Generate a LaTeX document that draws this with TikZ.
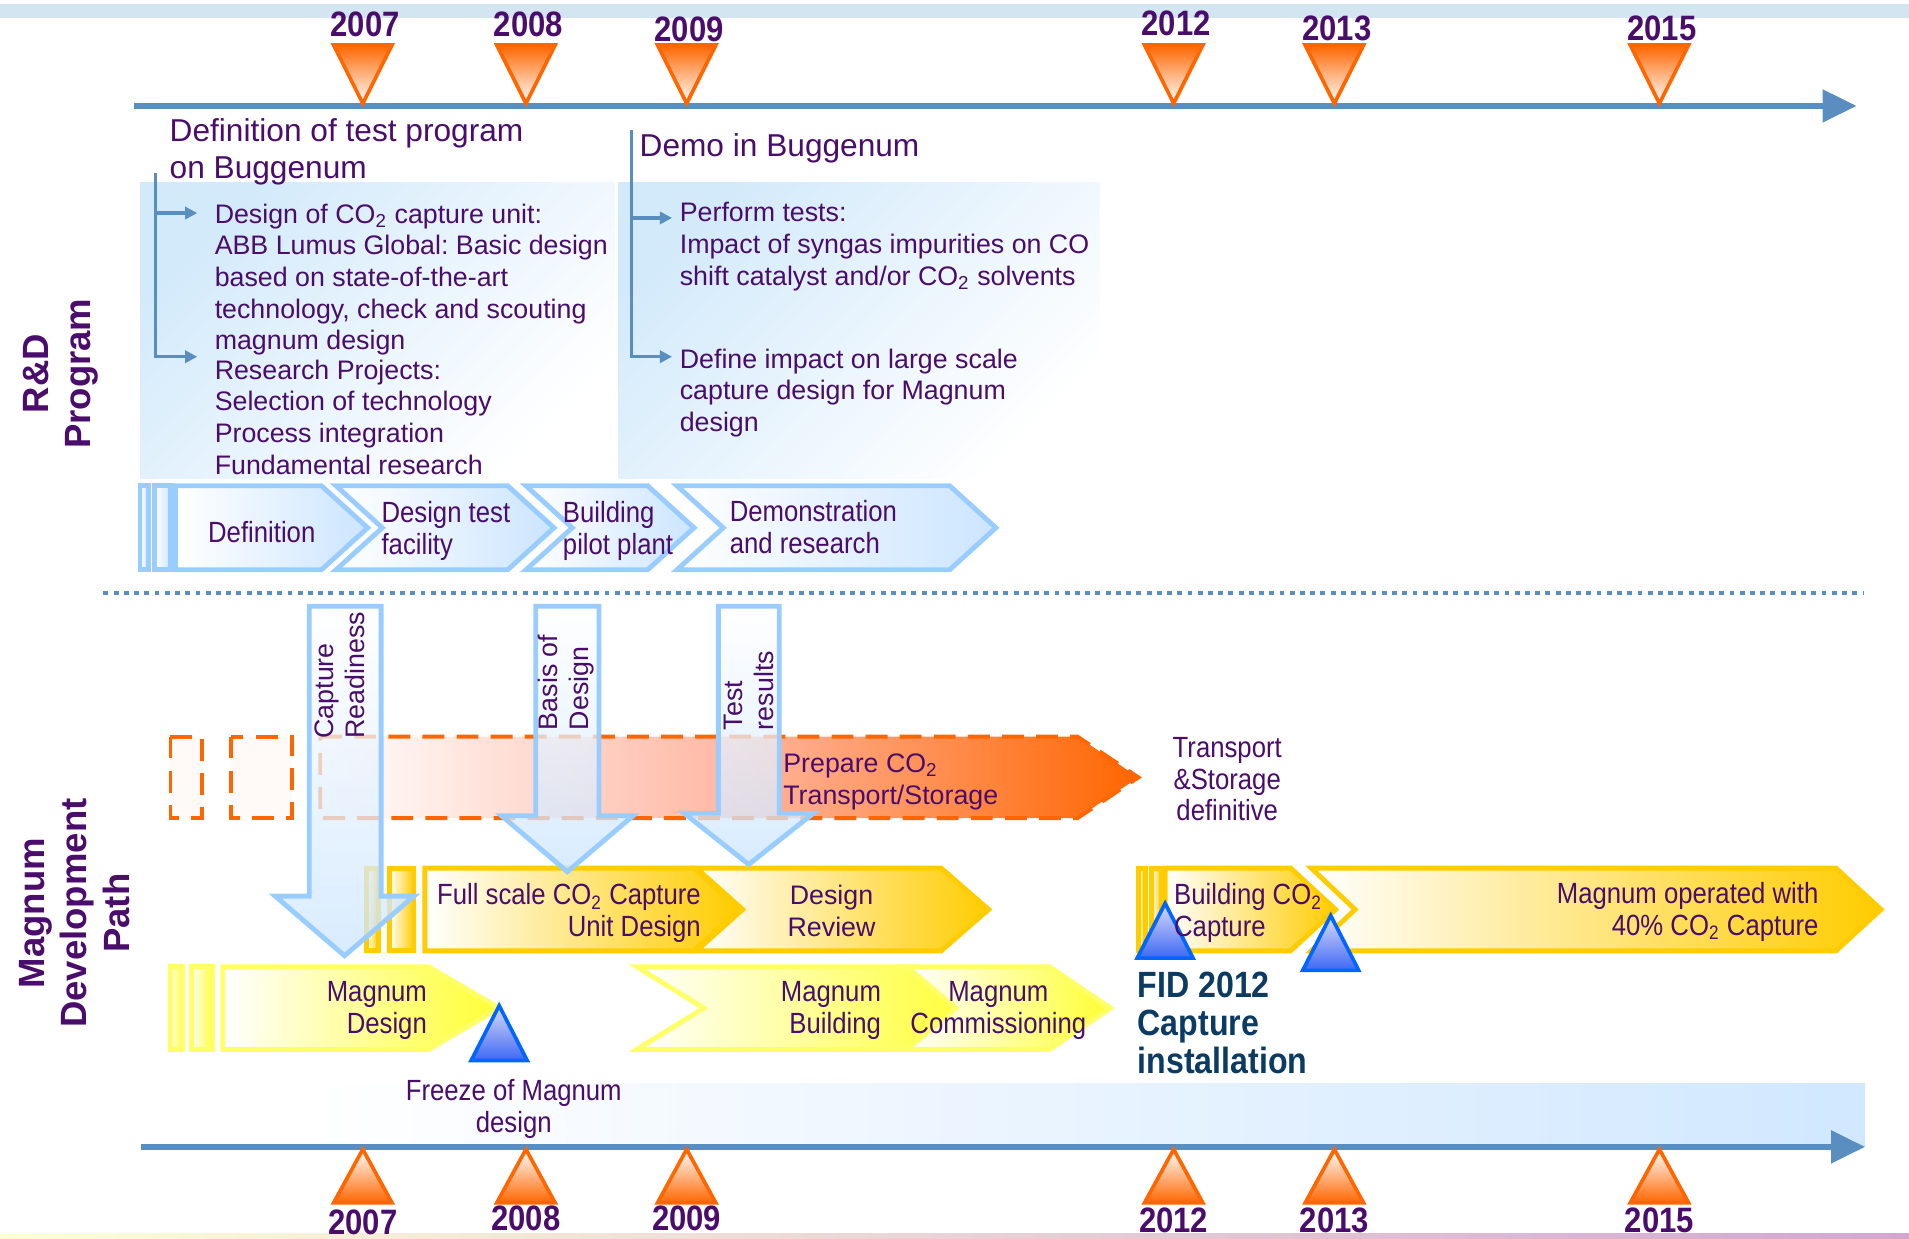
\documentclass[tikz,border=0pt]{standalone}
\usepackage{fontspec}
\setmainfont{Liberation Sans}
\newfontfamily\narrowfont[FakeStretch=0.88]{Liberation Sans}
\usetikzlibrary{arrows.meta}
\frenchspacing

\definecolor{ink}{HTML}{4A0D6B}
\definecolor{navy}{HTML}{0B3B63}
\definecolor{steel}{HTML}{5A8DC0}
\definecolor{band}{HTML}{D2E5F0}
\definecolor{skyline}{HTML}{99CCFF}
\definecolor{skyfill}{HTML}{CCE5FF}
\definecolor{panelblue}{HTML}{D3EAFB}
\definecolor{flame}{HTML}{FF6600}
\definecolor{salmon}{HTML}{FFB8A4}
\definecolor{gold}{HTML}{FFCC00}
\definecolor{lemon}{HTML}{FFFF33}
\definecolor{lemonline}{HTML}{FFFF66}
\definecolor{msblue}{HTML}{0066FF}
\definecolor{mslight}{HTML}{DCDCF8}
\definecolor{msdark}{HTML}{3D68F5}

\tikzset{
  txt/.style={text=ink, inner sep=0pt, font=\fontsize{11}{13}\selectfont},
  head/.style={text=ink, inner sep=0pt, font=\fontsize{13}{15}\selectfont},
  narrow/.style={text=ink, inner sep=0pt, font=\narrowfont\fontsize{12}{13}\selectfont},
  year/.style={text=ink, inner sep=0pt, font=\narrowfont\bfseries\fontsize{14.5}{15}\selectfont},
  side/.style={text=ink, inner sep=0pt, rotate=90, align=center, font=\bfseries\fontsize{15}{17.5}\selectfont},
  timeline/.style={draw=steel, line width=2.5pt, -{Triangle[length=14pt,width=13pt]}},
  bracket/.style={draw=steel, line width=1.3pt, -{Triangle[length=5pt,width=5pt]}},
  rdchev/.style={draw=skyline, line width=2pt, left color=white, right color=skyfill},
  gochev/.style={draw=gold, line width=2pt, left color=white, right color=gold},
  yechev/.style={draw=lemonline, line width=2pt, left color=white, right color=lemon},
  tsband/.style={draw=flame, line width=1.6pt, dash pattern=on 9pt off 5pt},
  feed/.style={draw=skyline, line width=2pt, top color=white, bottom color=skyfill, fill opacity=0.75},
  yeardown/.style={draw=flame, line width=1.5pt, top color=flame, bottom color=white},
  yearup/.style={draw=flame, line width=1.5pt, top color=white, bottom color=flame},
  milestone/.style={draw=msblue, line width=1.5pt, top color=mslight, bottom color=msdark}
}

\begin{document}
\begin{tikzpicture}[x=0.5pt, y=-0.5pt]
\useasboundingbox (0,0) rectangle (1568,1017);

% backgrounds
\fill[band] (0,3) rectangle (1568,15);
\shade[left color=yellow!15, right color=violet!35] (0,1013) rectangle (1568,1017);
\shade[top color=panelblue, bottom color=white, shading angle=45] (115,150) rectangle (505,393);
\shade[top color=panelblue, bottom color=white, shading angle=45] (508,150) rectangle (903,393);
\shade[left color=white, right color=skyfill!90] (255,890) rectangle (1532,942);

% time axes
\coordinate (topstart) at (110,87);
\coordinate (topend) at (1525,87);
\coordinate (botstart) at (116,942);
\coordinate (botend) at (1532,942);
\draw[timeline] (topstart) -- (topend);
\draw[timeline] (botstart) -- (botend);

\foreach \yr/\x/\ty/\by in {2007/298/20/1004, 2008/432/20/1001, 2009/564/24/1001,
    2012/964/19/1002, 2013/1096/23/1002, 2015/1363/23/1002} {
  \path[yeardown] (\x-24,37) -- (\x+24,37) -- (\x,85) -- cycle;
  \path[yearup] (\x-24,988) -- (\x+24,988) -- (\x,944) -- cycle;
  \node[year] (top\yr) at (\x+2,\ty) {\yr};
  \node[year] (bot\yr) at (\x,\by) {\yr};
}

% R&D program
\node[head, anchor=north west, align=left] (defhead) at (139,97)
  {Definition of test program\\on Buggenum};
\node[head, anchor=north west] (demohead) at (525,109) {Demo in Buggenum};

\coordinate (defbr) at (128,142);
\coordinate (defbr1) at (162,175);
\coordinate (defbr2) at (162,293);
\draw[bracket] (defbr) |- (defbr1);
\draw[bracket] (defbr) |- (defbr2);
\coordinate (demobr) at (519,107);
\coordinate (demobr1) at (552,179);
\coordinate (demobr2) at (552,293);
\draw[bracket] (demobr) |- (demobr1);
\draw[bracket] (demobr) |- (demobr2);

\node[txt, anchor=north west, align=left] (capunit) at (176,167)
  {Design of CO\textsubscript{2} capture unit:\\ABB Lumus Global: Basic design\\based on state-of-the-art\\technology, check and scouting\\magnum design};
\node[txt, anchor=north west, align=left] (research) at (176,295)
  {Research Projects:\\Selection of technology\\Process integration\\Fundamental research};
\node[txt, anchor=north west, align=left] (tests) at (558,166)
  {Perform tests:\\Impact of syngas impurities on CO\\shift catalyst and/or CO\textsubscript{2} solvents};
\node[txt, anchor=north west, align=left] (impact) at (558,286)
  {Define impact on large scale\\capture design for Magnum\\design};

\path[rdchev] (115,399) rectangle (122,468);
\path[rdchev] (127,399) rectangle (140,468);
\foreach \xl/\xc/\xt/\nt in {144/264/302/0, 276/417/455/38, 432/532/570/38, 556/780/818/38}
  \path[rdchev] (\xl,399) -- (\xc,399) -- (\xt,433.5) -- (\xc,468) -- (\xl,468) -- (\xl+\nt,433.5) -- cycle;
\node[narrow] (rddef) at (215,437) {Definition};
\node[narrow, anchor=west, align=left] (rdtest) at (313,436) {Design test\\facility};
\node[narrow, anchor=west, align=left] (rdpilot) at (462,436) {Building\\pilot plant};
\node[narrow, anchor=west, align=left] (rddemo) at (599,433) {Demonstration\\and research};

\coordinate (sepleft) at (85,487);
\coordinate (sepright) at (1530,487);
\draw[steel, line width=1.5pt, dash pattern=on 2pt off 2.2pt] (sepleft) -- (sepright);

% Magnum development path
\path[tsband, fill=flame!3] (140,605) rectangle (166,672);
\path[tsband, fill=flame!3] (190,605) rectangle (240,672);
\path[tsband, left color=white, right color=flame, middle color=salmon]
  (263,605) -- (885,605) -- (935,638.5) -- (885,672) -- (263,672) -- cycle;

\path[gochev] (301,713) rectangle (311,781);
\path[gochev] (320,713) rectangle (340,781);
\path[gochev] (935,713) rectangle (941,781);
\path[gochev] (946,713) rectangle (954,781);
\foreach \xl/\xc/\xt/\nt in {349/570/607/0, 572/773/812/38, 957/1060/1097/0, 1077/1508/1545/36}
  \path[gochev] (\xl,713) -- (\xc,713) -- (\xt,747) -- (\xc,781) -- (\xl,781) -- (\xl+\nt,747) -- cycle;

\path[yechev] (140,794) rectangle (150,862);
\path[yechev] (157,794) rectangle (175,862);
\foreach \xl/\xc/\xt/\nt in {183/352/410/0, 523/752/800/55, 745/862/912/40}
  \path[yechev] (\xl,794) -- (\xc,794) -- (\xt,828) -- (\xc,862) -- (\xl,862) -- (\xl+\nt,828) -- cycle;

\foreach \sl/\sr/\hy/\hl/\hr/\tx/\ty in {254/313/736/226/340/283/785,
    440/492/670/412/520/466/716, 590/640/668/562/668/615/710}
  \path[feed] (\sl,498) -- (\sr,498) -- (\sr,\hy) -- (\hr,\hy) -- (\tx,\ty) -- (\hl,\hy) -- (\sl,\hy) -- cycle;

\node[txt, rotate=90, anchor=west, align=left] (readiness) at (279,607) {Capture\\Readiness};
\node[txt, rotate=90, anchor=west, align=left] (basis) at (465,600) {Basis of\\Design};
\node[txt, rotate=90, anchor=west, align=left] (testres) at (615,600) {Test\\results};

\foreach \x/\y in {410/826, 957/742, 1093/752}
  \path[milestone] (\x-23,\y+45) -- (\x+23,\y+45) -- (\x,\y) -- cycle;

\node[txt, anchor=west, align=left] (prepare) at (643,642) {Prepare CO\textsubscript{2}\\Transport/Storage};
\node[narrow, align=center] (tsdef) at (1008,640) {Transport\\\&Storage\\definitive};
\node[narrow, anchor=east, align=right] (fullscale) at (576,750) {Full scale CO\textsubscript{2} Capture\\Unit Design};
\node[txt, align=center] (review) at (683,748) {Design\\Review};
\node[narrow, anchor=west, align=left] (buildcap) at (964,750) {Building CO\textsubscript{2}\\Capture};
\node[narrow, anchor=east, align=right] (operated) at (1494,749) {Magnum operated with\\40\% CO\textsubscript{2} Capture};
\node[narrow, anchor=east, align=right] (mdesign) at (351,830) {Magnum\\Design};
\node[narrow, anchor=east, align=right] (mbuild) at (724,830) {Magnum\\Building};
\node[narrow, align=center] (mcomm) at (820,830) {Magnum\\Commissioning};
\node[narrow, align=center] (freeze) at (422,911) {Freeze of Magnum\\design};
\node[inner sep=0pt, anchor=west, align=left, text=navy, font=\narrowfont\bfseries\fontsize{15}{15.5}\selectfont]
  (fid) at (934,840) {FID 2012\\Capture\\installation};

% side titles
\node[side] (rdtitle) at (50,307) {R\&D\\Program};
\node[side] (mdtitle) at (61,750) {Magnum\\Development\\Path};
\end{tikzpicture}
\end{document}
